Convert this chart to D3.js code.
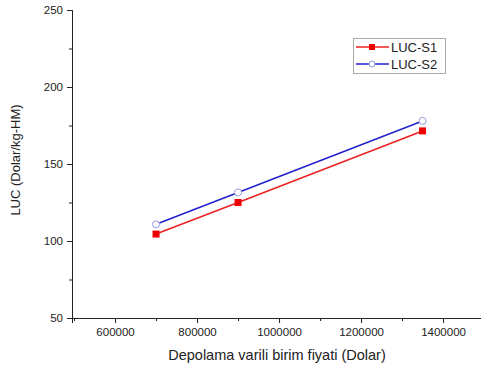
<!DOCTYPE html>
<html>
<head>
<meta charset="utf-8">
<script src="https://cdn.jsdelivr.net/npm/d3@7"></script>
<style>
  body { margin: 0; background: #fff; }
  text { font-family: "Liberation Sans", Arial, sans-serif; fill: #222; }
</style>
</head>
<body>
<svg width="481" height="372"></svg>
<script>
const prices = [700000, 900000, 1350000];
const s1 = [104.5, 125, 171.5];
const s2 = [110.8, 131.5, 178];
const seriesNames = ['LUC-S1', 'LUC-S2'];
const xTicks = [600000, 800000, 1000000, 1200000, 1400000];
const yTicks = [50, 100, 150, 200, 250];

const svg = d3.select('svg');

const x = d3.scaleLinear().domain([495000, 1495000]).range([72, 482]);
const y = d3.scaleLinear().domain([50, 250]).range([318, 10]);

// minor ticks
const xMinor = d3.range(500000, 1500001, 100000).filter(v => !xTicks.includes(v));
const yMinor = d3.range(75, 250, 50);

const gx = svg.append('g').attr('transform', 'translate(0,318)');
gx.call(d3.axisBottom(x).tickValues(xMinor).tickSize(3).tickFormat(''));
gx.append('g').call(d3.axisBottom(x).tickValues(xTicks).tickSize(5).tickFormat(d3.format('d')).tickPadding(5));
gx.selectAll('.domain').attr('stroke', '#222');
gx.selectAll('line').attr('stroke', '#222');
gx.selectAll('text').style('font-size', '11.5px').attr('fill', '#222');

const gy = svg.append('g').attr('transform', 'translate(72,0)');
gy.call(d3.axisLeft(y).tickValues(yMinor).tickSize(3).tickFormat(''));
gy.append('g').call(d3.axisLeft(y).tickValues(yTicks).tickSize(5).tickPadding(4));
gy.selectAll('.domain').attr('stroke', '#222');
gy.selectAll('line').attr('stroke', '#222');
gy.selectAll('text').style('font-size', '11.5px').attr('fill', '#222');

svg.append('text')
  .attr('transform', 'translate(20,160) rotate(-90)')
  .attr('text-anchor', 'middle')
  .style('font-size', '13px')
  .text('LUC (Dolar/kg-HM)');

svg.append('text')
  .attr('x', 277).attr('y', 360)
  .attr('text-anchor', 'middle')
  .style('font-size', '14.5px')
  .text('Depolama varili birim fiyati (Dolar)');

const line = d3.line().x((d, i) => x(prices[i])).y(d => y(d));

svg.append('path').datum(s1).attr('d', line)
  .attr('fill', 'none').attr('stroke', '#ee2222').attr('stroke-width', 1.6);
svg.append('path').datum(s2).attr('d', line)
  .attr('fill', 'none').attr('stroke', '#2222cc').attr('stroke-width', 1.6);

svg.selectAll('.sq').data(s1).enter().append('rect')
  .attr('x', (d, i) => x(prices[i]) - 3.5).attr('y', d => y(d) - 3.5)
  .attr('width', 7).attr('height', 7).attr('fill', '#ee0000');
svg.selectAll('.ci').data(s2).enter().append('circle')
  .attr('cx', (d, i) => x(prices[i])).attr('cy', d => y(d)).attr('r', 3.5)
  .attr('fill', '#fff').attr('stroke', '#9999dd').attr('stroke-width', 1);

// legend
const lg = svg.append('g');
lg.append('rect').attr('x', 353.5).attr('y', 38.5).attr('width', 92).attr('height', 35)
  .attr('fill', '#fff').attr('stroke', '#aaa');
[['#ee2222', 47], ['#2222cc', 64]].forEach(([c, ly], i) => {
  lg.append('line').attr('x1', 356).attr('x2', 389).attr('y1', ly).attr('y2', ly)
    .attr('stroke', c).attr('stroke-width', 1.6);
  if (i === 0) {
    lg.append('rect').attr('x', 369).attr('y', ly - 3).attr('width', 6).attr('height', 6).attr('fill', '#ee0000');
  } else {
    lg.append('circle').attr('cx', 372).attr('cy', ly).attr('r', 3)
      .attr('fill', '#fff').attr('stroke', '#9999dd');
  }
  lg.append('text').attr('x', 391).attr('y', ly + 5).style('font-size', '13px').text(seriesNames[i]);
});
</script>
</body>
</html>
